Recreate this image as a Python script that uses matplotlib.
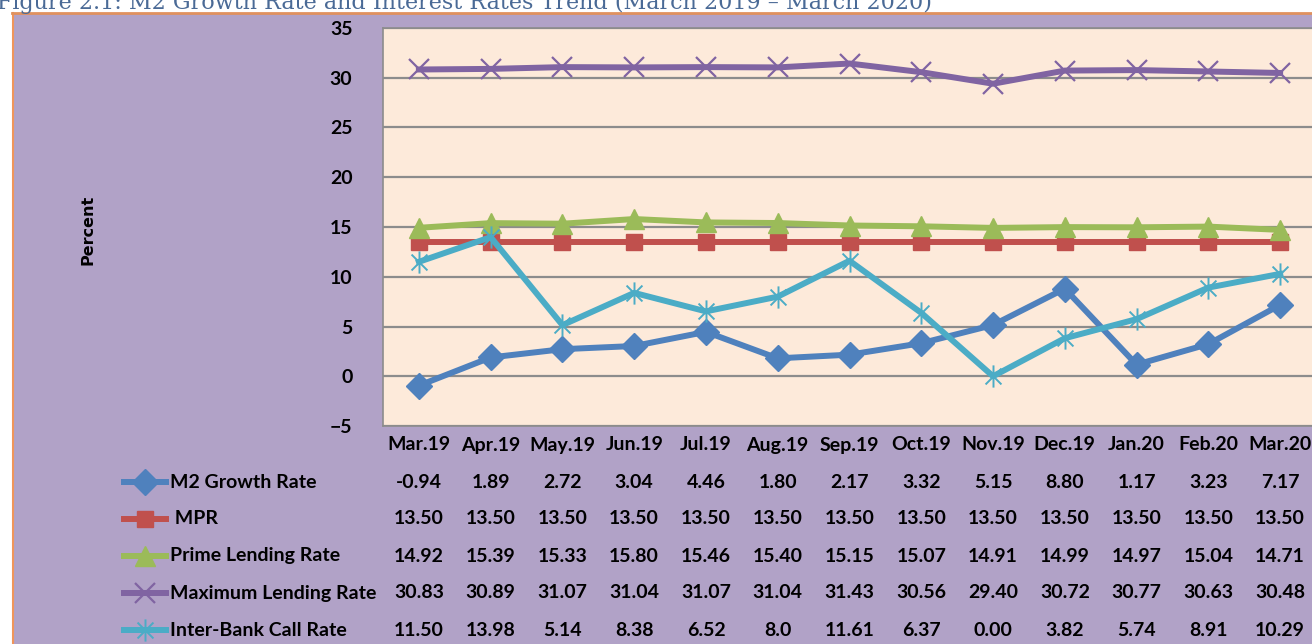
import numpy as np
import matplotlib.pyplot as plt
from matplotlib.path import Path
from matplotlib.patches import Rectangle
from matplotlib.lines import Line2D
import matplotlib.transforms as mtransforms

months = ["Mar.19", "Apr.19", "May.19", "Jun.19", "Jul.19", "Aug.19", "Sep.19",
          "Oct.19", "Nov.19", "Dec.19", "Jan.20", "Feb.20", "Mar.20"]
m2_growth = [-0.94, 1.89, 2.72, 3.04, 4.46, 1.80, 2.17, 3.32, 5.15, 8.80, 1.17, 3.23, 7.17]
mpr = [13.50] * 13
prime_lending = [14.92, 15.39, 15.33, 15.80, 15.46, 15.40, 15.15, 15.07, 14.91, 14.99, 14.97, 15.04, 14.71]
max_lending = [30.83, 30.89, 31.07, 31.04, 31.07, 31.04, 31.43, 30.56, 29.40, 30.72, 30.77, 30.63, 30.48]
interbank = [11.50, 13.98, 5.14, 8.38, 6.52, 8.0, 11.61, 6.37, 0.00, 3.82, 5.74, 8.91, 10.29]
interbank_text = {5: "8.0"}  # shown this way in the source table

# excel style star: an x plus a vertical bar
star = Path([(-1, -1), (1, 1), (-1, 1), (1, -1), (0, -1.4), (0, 1.4)],
            [Path.MOVETO, Path.LINETO, Path.MOVETO, Path.LINETO, Path.MOVETO, Path.LINETO])

series = [
    ("M2 Growth Rate", m2_growth, "#4F81BD", "D", 13, {}),
    (" MPR", mpr, "#C0504D", "s", 12, {}),
    ("Prime Lending Rate", prime_lending, "#9BBB59", "^", 14, {}),
    ("Maximum Lending Rate", max_lending, "#8064A2", "x", 15, {"mew": 1.6}),
    ("Inter-Bank Call Rate", interbank, "#4BACC6", star, 16, {"mew": 1.4}),
]

W, H = 1312, 644
fig = plt.figure(figsize=(W / 100, H / 100), dpi=100)
fig.patch.set_facecolor("white")
plt.rcParams["font.family"] = ["Lato", "DejaVu Sans"]

# chart background and orange border
bg = Rectangle((13 / W, 0), 1, 1 - 14 / H, transform=fig.transFigure,
               facecolor="#B1A2C7", edgecolor="none", zorder=-5)
fig.add_artist(bg)
fig.add_artist(Line2D([12.5 / W, 12.5 / W], [0, 1 - 13 / H], transform=fig.transFigure,
                      color="#F0955A", lw=1.5, zorder=-4))
fig.add_artist(Line2D([12 / W, 1], [1 - 13 / H, 1 - 13 / H], transform=fig.transFigure,
                      color="#E0915E", lw=2, zorder=-4))

fig.text(-0.002, 1 - 9 / H, "Figure 2.1: M2 Growth Rate and Interest Rates Trend (March 2019 \u2013 March 2020)",
         family="DejaVu Serif", fontsize=16, color="#4A6A96", va="baseline", ha="left")

ax = fig.add_axes([383 / W, 1 - 426 / H, 933 / W, 398 / H])
ax.set_facecolor("#FDEADA")
x = np.arange(len(months))
for label, vals, col, mk, ms, kw in series:
    ax.plot(x, vals, color=col, lw=4.3, marker=mk, ms=ms, mfc=col, mec=col, **kw)

ax.set_xlim(-0.5, len(months) - 0.5)
ax.set_ylim(-5, 35)
ax.set_yticks(range(-5, 36, 5))
ax.set_xticks([])
ax.grid(axis="y", color="#8C8C8C", lw=1.6)
ax.set_axisbelow(True)
for s in ax.spines.values():
    s.set_color("#8C8C8C")
    s.set_linewidth(1.2)
ax.tick_params(axis="y", length=0, pad=22, labelsize=14)
for t in ax.get_yticklabels():
    t.set_fontweight("bold")

fig.text(88 / W, 1 - 230 / H, "Percent", rotation=90, fontsize=11.5, fontweight="bold",
         family="DejaVu Sans", ha="center", va="center")

# data table below the plot
trans = mtransforms.blended_transform_factory(ax.transData, fig.transFigure)
for i, m in enumerate(months):
    ax.text(i, 1 - 445 / H, m, transform=trans, ha="center", va="center",
            fontsize=14, fontweight="bold", clip_on=False)

row_y = [482, 519, 556, 593, 630]
for r, (label, vals, col, mk, ms, kw) in enumerate(series):
    yf = 1 - row_y[r] / H
    fig.add_artist(Line2D([124 / W, 166 / W], [yf, yf], transform=fig.transFigure,
                          color=col, lw=4.3))
    fig.add_artist(Line2D([145 / W], [yf], transform=fig.transFigure, color=col,
                          marker=mk, ms=ms, mfc=col, mec=col, lw=0, **kw))
    fig.text(170 / W, yf, label, fontsize=14, fontweight="bold", va="center", ha="left")
    for i, v in enumerate(vals):
        txt = "{:.2f}".format(v)
        if label.startswith("Inter") and i in interbank_text:
            txt = interbank_text[i]
        ax.text(i, yf, txt, transform=trans, ha="center", va="center",
                fontsize=14, fontweight="bold", clip_on=False)

plt.savefig("out.png", dpi=100)
